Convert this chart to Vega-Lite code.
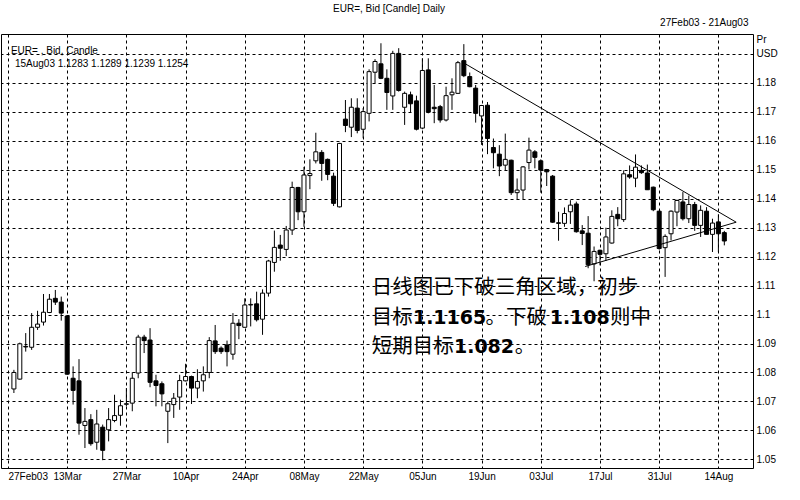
{
  "$schema": "https://vega.github.io/schema/vega-lite/v6.json",
  "width": 752,
  "height": 434,
  "autosize": {"type": "none"},
  "padding": {"left": 1, "top": 34, "right": 47, "bottom": 32},
  "background": "white",
  "title": {"text": "EUR=, Bid [Candle] Daily", "anchor": "middle", "frame": "bounds", "font": "Liberation Sans", "fontSize": 10, "fontWeight": "normal", "color": "black", "offset": 3},
  "config": {
    "view": {"stroke": "black", "strokeWidth": 1},
    "font": "Liberation Sans",
    "axis": {"labelFont": "Liberation Sans", "titleFont": "Liberation Sans", "labelColor": "black", "titleColor": "black", "labelFontSize": 10, "titleFontSize": 10, "titleFontWeight": "normal", "gridColor": "black", "gridOpacity": 1, "gridDash": [3, 3], "gridWidth": 1, "ticks": false, "domain": false, "labelOverlap": false}
  },
  "resolve": {"axis": {"x": "independent", "y": "independent"}},
  "datasets": {
    "candles": [
      {"i":1,"o":1.0743,"h":1.0809,"l":1.0729,"c":1.0800},
      {"i":2,"o":1.0777,"h":1.0903,"l":1.0775,"c":1.0899},
      {"i":3,"o":1.0890,"h":1.0936,"l":1.0872,"c":1.0888},
      {"i":4,"o":1.0887,"h":1.1005,"l":1.0878,"c":1.0956},
      {"i":5,"o":1.0956,"h":1.1013,"l":1.0947,"c":1.0967},
      {"i":6,"o":1.0974,"h":1.1071,"l":1.0962,"c":1.1008},
      {"i":7,"o":1.1007,"h":1.1071,"l":1.1005,"c":1.1053},
      {"i":8,"o":1.1056,"h":1.1085,"l":1.1033,"c":1.1043},
      {"i":9,"o":1.1043,"h":1.1062,"l":1.0979,"c":1.1005},
      {"i":10,"o":1.0995,"h":1.0998,"l":1.0792,"c":1.0794},
      {"i":11,"o":1.0780,"h":1.0821,"l":1.0689,"c":1.0738},
      {"i":12,"o":1.0771,"h":1.0846,"l":1.0585,"c":1.0625},
      {"i":13,"o":1.0617,"h":1.0677,"l":1.0539,"c":1.0631},
      {"i":14,"o":1.0637,"h":1.0656,"l":1.0547,"c":1.0554},
      {"i":15,"o":1.0559,"h":1.0671,"l":1.0533,"c":1.0622},
      {"i":16,"o":1.0611,"h":1.0620,"l":1.0497,"c":1.0531},
      {"i":17,"o":1.0602,"h":1.0677,"l":1.0562,"c":1.0637},
      {"i":18,"o":1.0634,"h":1.0723,"l":1.0628,"c":1.0651},
      {"i":19,"o":1.0652,"h":1.0706,"l":1.0616,"c":1.0685},
      {"i":20,"o":1.0690,"h":1.0746,"l":1.0683,"c":1.0692},
      {"i":21,"o":1.0694,"h":1.0801,"l":1.0666,"c":1.0780},
      {"i":22,"o":1.0798,"h":1.0930,"l":1.0780,"c":1.0922},
      {"i":23,"o":1.0922,"h":1.0930,"l":1.0867,"c":1.0910},
      {"i":24,"o":1.0912,"h":1.0953,"l":1.0749,"c":1.0766},
      {"i":25,"o":1.0771,"h":1.0792,"l":1.0683,"c":1.0755},
      {"i":26,"o":1.0761,"h":1.0769,"l":1.0683,"c":1.0726},
      {"i":27,"o":1.0666,"h":1.0700,"l":1.0556,"c":1.0692},
      {"i":28,"o":1.0689,"h":1.0729,"l":1.0643,"c":1.0711},
      {"i":29,"o":1.0715,"h":1.0792,"l":1.0671,"c":1.0772},
      {"i":30,"o":1.0771,"h":1.0830,"l":1.0769,"c":1.0786},
      {"i":31,"o":1.0786,"h":1.0789,"l":1.0691,"c":1.0746},
      {"i":32,"o":1.0746,"h":1.0811,"l":1.0711,"c":1.0769},
      {"i":33,"o":1.0771,"h":1.0821,"l":1.0734,"c":1.0792},
      {"i":34,"o":1.0800,"h":1.0922,"l":1.0780,"c":1.0910},
      {"i":35,"o":1.0909,"h":1.0964,"l":1.0864,"c":1.0872},
      {"i":36,"o":1.0884,"h":1.0890,"l":1.0864,"c":1.0872},
      {"i":37,"o":1.0895,"h":1.0910,"l":1.0821,"c":1.0872},
      {"i":38,"o":1.0863,"h":1.1005,"l":1.0844,"c":1.0970},
      {"i":39,"o":1.0970,"h":1.0984,"l":1.0915,"c":1.0962},
      {"i":40,"o":1.0956,"h":1.1056,"l":1.0956,"c":1.1033},
      {"i":41,"o":1.1033,"h":1.1056,"l":1.0959,"c":1.1035},
      {"i":42,"o":1.1037,"h":1.1079,"l":1.0976,"c":1.0982},
      {"i":43,"o":1.0984,"h":1.1087,"l":1.0930,"c":1.1074},
      {"i":44,"o":1.1074,"h":1.1189,"l":1.1062,"c":1.1185},
      {"i":45,"o":1.1180,"h":1.1290,"l":1.1148,"c":1.1232},
      {"i":46,"o":1.1240,"h":1.1275,"l":1.1186,"c":1.1229},
      {"i":47,"o":1.1225,"h":1.1306,"l":1.1202,"c":1.1292},
      {"i":48,"o":1.1292,"h":1.1459,"l":1.1275,"c":1.1439},
      {"i":49,"o":1.1439,"h":1.1441,"l":1.1326,"c":1.1355},
      {"i":50,"o":1.1355,"h":1.1510,"l":1.1303,"c":1.1482},
      {"i":51,"o":1.1480,"h":1.1536,"l":1.1433,"c":1.1487},
      {"i":52,"o":1.1531,"h":1.1628,"l":1.1522,"c":1.1562},
      {"i":53,"o":1.1560,"h":1.1568,"l":1.1462,"c":1.1522},
      {"i":54,"o":1.1536,"h":1.1539,"l":1.1464,"c":1.1484},
      {"i":55,"o":1.1478,"h":1.1490,"l":1.1375,"c":1.1384},
      {"i":56,"o":1.1372,"h":1.1593,"l":1.1370,"c":1.1591},
      {"i":57,"o":1.1675,"h":1.1741,"l":1.1630,"c":1.1653},
      {"i":58,"o":1.1647,"h":1.1747,"l":1.1613,"c":1.1716},
      {"i":59,"o":1.1713,"h":1.1747,"l":1.1626,"c":1.1636},
      {"i":60,"o":1.1640,"h":1.1713,"l":1.1609,"c":1.1701},
      {"i":61,"o":1.1695,"h":1.1847,"l":1.1667,"c":1.1839},
      {"i":62,"o":1.1837,"h":1.1882,"l":1.1799,"c":1.1874},
      {"i":63,"o":1.1866,"h":1.1937,"l":1.1813,"c":1.1816},
      {"i":64,"o":1.1816,"h":1.1847,"l":1.1707,"c":1.1767},
      {"i":65,"o":1.1755,"h":1.1911,"l":1.1707,"c":1.1902},
      {"i":66,"o":1.1902,"h":1.1920,"l":1.1770,"c":1.1774},
      {"i":67,"o":1.1716,"h":1.1770,"l":1.1655,"c":1.1764},
      {"i":68,"o":1.1759,"h":1.1770,"l":1.1698,"c":1.1728},
      {"i":69,"o":1.1738,"h":1.1756,"l":1.1636,"c":1.1640},
      {"i":70,"o":1.1644,"h":1.1885,"l":1.1640,"c":1.1843},
      {"i":71,"o":1.1845,"h":1.1885,"l":1.1695,"c":1.1699},
      {"i":72,"o":1.1716,"h":1.1793,"l":1.1661,"c":1.1711},
      {"i":73,"o":1.1718,"h":1.1724,"l":1.1663,"c":1.1672},
      {"i":74,"o":1.1672,"h":1.1787,"l":1.1667,"c":1.1756},
      {"i":75,"o":1.1759,"h":1.1816,"l":1.1707,"c":1.1768},
      {"i":76,"o":1.1764,"h":1.1876,"l":1.1762,"c":1.1870},
      {"i":77,"o":1.1877,"h":1.1934,"l":1.1820,"c":1.1825},
      {"i":78,"o":1.1822,"h":1.1836,"l":1.1785,"c":1.1787},
      {"i":79,"o":1.1782,"h":1.1793,"l":1.1663,"c":1.1695},
      {"i":80,"o":1.1686,"h":1.1724,"l":1.1586,"c":1.1722},
      {"i":81,"o":1.1723,"h":1.1734,"l":1.1554,"c":1.1608},
      {"i":82,"o":1.1577,"h":1.1608,"l":1.1505,"c":1.1559},
      {"i":83,"o":1.1554,"h":1.1585,"l":1.1478,"c":1.1513},
      {"i":84,"o":1.1516,"h":1.1625,"l":1.1497,"c":1.1536},
      {"i":85,"o":1.1533,"h":1.1535,"l":1.1413,"c":1.1421},
      {"i":86,"o":1.1421,"h":1.1470,"l":1.1398,"c":1.1430},
      {"i":87,"o":1.1430,"h":1.1513,"l":1.1398,"c":1.1510},
      {"i":88,"o":1.1525,"h":1.1611,"l":1.1501,"c":1.1568},
      {"i":89,"o":1.1562,"h":1.1568,"l":1.1505,"c":1.1543},
      {"i":90,"o":1.1531,"h":1.1536,"l":1.1421,"c":1.1499},
      {"i":91,"o":1.1501,"h":1.1503,"l":1.1444,"c":1.1493},
      {"i":92,"o":1.1478,"h":1.1482,"l":1.1317,"c":1.1319},
      {"i":93,"o":1.1317,"h":1.1355,"l":1.1255,"c":1.1315},
      {"i":94,"o":1.1315,"h":1.1370,"l":1.1303,"c":1.1349},
      {"i":95,"o":1.1355,"h":1.1395,"l":1.1313,"c":1.1378},
      {"i":96,"o":1.1382,"h":1.1390,"l":1.1283,"c":1.1286},
      {"i":97,"o":1.1289,"h":1.1309,"l":1.1240,"c":1.1280},
      {"i":98,"o":1.1281,"h":1.1340,"l":1.1160,"c":1.1172},
      {"i":99,"o":1.1175,"h":1.1235,"l":1.1115,"c":1.1218},
      {"i":100,"o":1.1222,"h":1.1224,"l":1.1170,"c":1.1208},
      {"i":101,"o":1.1210,"h":1.1300,"l":1.1185,"c":1.1268},
      {"i":102,"o":1.1247,"h":1.1360,"l":1.1245,"c":1.1339},
      {"i":103,"o":1.1346,"h":1.1371,"l":1.1305,"c":1.1331},
      {"i":104,"o":1.1328,"h":1.1498,"l":1.1320,"c":1.1486},
      {"i":105,"o":1.1483,"h":1.1515,"l":1.1469,"c":1.1475},
      {"i":106,"o":1.1471,"h":1.1553,"l":1.1440,"c":1.1509},
      {"i":107,"o":1.1498,"h":1.1515,"l":1.1486,"c":1.1490},
      {"i":108,"o":1.1489,"h":1.1518,"l":1.1431,"c":1.1431},
      {"i":109,"o":1.1440,"h":1.1442,"l":1.1357,"c":1.1362},
      {"i":110,"o":1.1357,"h":1.1359,"l":1.1224,"c":1.1228},
      {"i":111,"o":1.1231,"h":1.1277,"l":1.1130,"c":1.1270},
      {"i":112,"o":1.1279,"h":1.1360,"l":1.1256,"c":1.1357},
      {"i":113,"o":1.1354,"h":1.1397,"l":1.1305,"c":1.1394},
      {"i":114,"o":1.1389,"h":1.1423,"l":1.1325,"c":1.1331},
      {"i":115,"o":1.1331,"h":1.1411,"l":1.1316,"c":1.1380},
      {"i":116,"o":1.1380,"h":1.1389,"l":1.1289,"c":1.1308},
      {"i":117,"o":1.1308,"h":1.1377,"l":1.1268,"c":1.1360},
      {"i":118,"o":1.1357,"h":1.1371,"l":1.1277,"c":1.1277},
      {"i":119,"o":1.1277,"h":1.1331,"l":1.1216,"c":1.1316},
      {"i":120,"o":1.1320,"h":1.1346,"l":1.1216,"c":1.1279},
      {"i":121,"o":1.1283,"h":1.1289,"l":1.1239,"c":1.1254}
    ],
    "trend": [
      {"line": "upper", "i": 77, "p": 1.1869},
      {"line": "upper", "i": 123, "p": 1.1319},
      {"line": "lower", "i": 97.5, "p": 1.1166},
      {"line": "lower", "i": 123, "p": 1.1319}
    ],
    "legend": [
      {"t": "EUR= , Bid, Candle", "i": 0.5, "p": 1.1910},
      {"t": "15Aug03 1.1283 1.1289 1.1239 1.1254", "i": 1.17, "p": 1.1864}
    ],
    "cjk": [
      {"t": "日线图已下破三角区域，初步", "i": 61.45, "p": 1.1090},
      {"t": "目标", "i": 61.45, "p": 1.0987},
      {"t": "。下破", "i": 80.67, "p": 1.0987},
      {"t": "则中", "i": 101.7, "p": 1.0987},
      {"t": "短期目标", "i": 61.45, "p": 1.0889},
      {"t": "。", "i": 85.6, "p": 1.0889}
    ],
    "nums": [
      {"t": "1.1165", "i": 68.4, "p": 1.0987},
      {"t": "1.108", "i": 91.5, "p": 1.0987},
      {"t": "1.082", "i": 75.33, "p": 1.0889}
    ]
  },
  "layer": [
    {
      "data": {"name": "candles"},
      "mark": {"type": "rule", "color": "black", "strokeWidth": 1},
      "encoding": {
        "x": {"field": "i", "type": "quantitative", "scale": {"domain": [-0.333, 125], "nice": false, "zero": false},
          "axis": {"orient": "bottom", "title": null, "values": [0,10,20,30,40,50,60,70,80,90,100,110,120], "labelExpr": "['27Feb03','13Mar','27Mar','10Apr','24Apr','08May','22May','05Jun','19Jun','03Jul','17Jul','31Jul','14Aug'][round(datum.value/10)]", "labelAlign": {"expr": "datum.value == 0 ? 'left' : 'center'"}, "labelFlush": false, "labelPadding": 3, "grid": true}},
        "y": {"field": "l", "type": "quantitative", "scale": {"domain": [1.0470, 1.1969], "nice": false, "zero": false},
          "axis": {"orient": "right", "values": [1.05,1.06,1.07,1.08,1.09,1.1,1.11,1.12,1.13,1.14,1.15,1.16,1.17,1.18,1.19], "labelExpr": "datum.value > 1.185 ? 'USD' : format(datum.value, '.2~f')", "labelAlign": "left", "labelPadding": 3, "grid": true, "title": "Pr", "titleAngle": 0, "titleAlign": "left", "titleBaseline": "top", "titleX": 3, "titleY": 0}},
        "y2": {"field": "h"}
      }
    },
    {
      "data": {"name": "candles"},
      "mark": {"type": "bar", "width": 4, "stroke": "black", "strokeWidth": 1},
      "encoding": {
        "x": {"field": "i", "type": "quantitative", "axis": null},
        "y": {"field": "o", "type": "quantitative", "axis": null},
        "y2": {"field": "c"},
        "fill": {"condition": {"test": "datum.c >= datum.o", "value": "white"}, "value": "black"}
      }
    },
    {
      "data": {"name": "trend"},
      "mark": {"type": "line", "color": "black", "strokeWidth": 1},
      "encoding": {
        "x": {"field": "i", "type": "quantitative", "axis": {"orient": "top", "values": [], "labels": false, "grid": false, "title": "27Feb03 - 21Aug03", "titleAlign": "right", "titleBaseline": "middle", "titleX": 747, "titleY": -12}},
        "y": {"field": "p", "type": "quantitative", "axis": null},
        "detail": {"field": "line"}
      }
    },
    {
      "data": {"name": "legend"},
      "mark": {"type": "text", "align": "left", "baseline": "middle", "font": "Liberation Sans", "fontSize": 10, "color": "black"},
      "encoding": {
        "x": {"field": "i", "type": "quantitative", "axis": null},
        "y": {"field": "p", "type": "quantitative", "axis": null},
        "text": {"field": "t"}
      }
    },
    {
      "data": {"name": "cjk"},
      "mark": {"type": "text", "align": "left", "baseline": "middle", "font": "Noto Sans CJK SC", "fontSize": 20.5, "color": "black"},
      "encoding": {
        "x": {"field": "i", "type": "quantitative", "axis": null},
        "y": {"field": "p", "type": "quantitative", "axis": null},
        "text": {"field": "t"}
      }
    },
    {
      "data": {"name": "nums"},
      "mark": {"type": "text", "align": "left", "baseline": "middle", "font": "DejaVu Sans", "fontWeight": "bold", "fontSize": 19, "color": "black"},
      "encoding": {
        "x": {"field": "i", "type": "quantitative", "axis": null},
        "y": {"field": "p", "type": "quantitative", "axis": null},
        "text": {"field": "t"}
      }
    }
  ]
}
